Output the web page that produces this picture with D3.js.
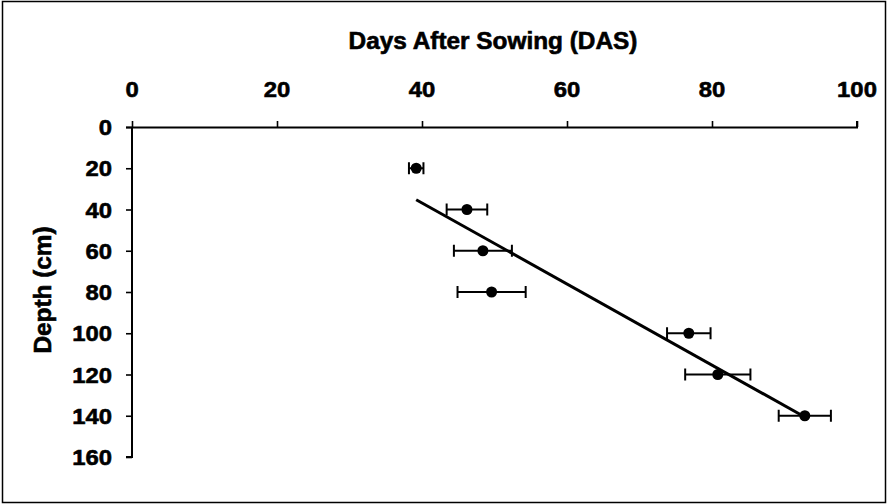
<!DOCTYPE html>
<html>
<head>
<meta charset="utf-8">
<script src="https://cdn.jsdelivr.net/npm/d3@7/dist/d3.min.js"></script>
<style>
  html, body { margin: 0; padding: 0; background: #fff; }
  svg { display: block; }
  text { font-family: "Liberation Sans", Arial, sans-serif; font-weight: bold; fill: #000;
         stroke: #000; stroke-width: 0.6px; }
</style>
</head>
<body>
<svg id="chart" width="890" height="504"></svg>
<script>
// Rooting depth observations: depth (cm) reached at a given days-after-sowing
const depths = [20, 40, 60, 80, 100, 120, 140];
const dasMean = [39.2, 46.2, 48.4, 49.6, 76.8, 80.8, 92.8];
const dasErr = [1.0, 2.8, 4.0, 4.7, 3.0, 4.5, 3.6];
const xTicks = [0, 20, 40, 60, 80, 100];
const yTicks = [0, 20, 40, 60, 80, 100, 120, 140, 160];

const svg = d3.select("#chart");
const W = 890, H = 504;
const margin = { left: 132, right: 33, top: 127, bottom: 47 };

const x = d3.scaleLinear().domain([0, 100]).range([margin.left, W - margin.right]);
const y = d3.scaleLinear().domain([0, 160]).range([margin.top, H - margin.bottom]);

// Outer frame
svg.append("rect")
  .attr("x", 2.5).attr("y", 1.5).attr("width", 883).attr("height", 501)
  .attr("fill", "none").attr("stroke", "#000").attr("stroke-width", 1.5);

const stretch = 1.06;
// Text with a slight widening along its own direction
function label(g, tx, ty, str, size, anchor, rot) {
  return g.append("text")
    .attr("transform", `translate(${tx},${ty}) rotate(${rot || 0}) scale(${stretch},1)`)
    .attr("text-anchor", anchor)
    .style("font-size", size + "px")
    .text(str);
}

// Top x axis
const xAxis = svg.append("g")
  .attr("transform", `translate(0,${y(0)})`)
  .call(d3.axisTop(x).tickValues(xTicks).tickSize(6).tickFormat(""));
// Left y axis
const yAxis = svg.append("g")
  .attr("transform", `translate(${x(0)},0)`)
  .call(d3.axisLeft(y).tickValues(yTicks).tickSize(6).tickFormat(""));
[xAxis, yAxis].forEach(a => {
  a.select(".domain").attr("stroke-width", 2).attr("stroke", "#000");
  a.selectAll(".tick line").attr("stroke-width", 1.6).attr("stroke", "#000");
});
xAxis.select(".domain").attr("d", `M${x(0) - 6},0.5H${x(100)}V-6`);
yAxis.select(".domain").attr("d", `M0,${y(0)}V${y(160)}H-6`);

// Tick labels
xTicks.forEach(t => label(svg, x(t), 97, String(t), 22.5, "middle"));
yTicks.forEach(t => label(svg, 112, y(t) + 8, String(t), 22.5, "end"));

// Axis titles
label(svg, 493, 49, "Days After Sowing (DAS)", 23, "middle");
label(svg, 51, 290, "Depth (cm)", 23, "middle", -90);

// Linear trendline (depth on DAS)
const n = dasMean.length;
const mx = d3.mean(dasMean), my = d3.mean(depths);
let sxy = 0, sxx = 0;
for (let i = 0; i < n; i++) {
  sxy += (dasMean[i] - mx) * (depths[i] - my);
  sxx += (dasMean[i] - mx) ** 2;
}
const slope = sxy / sxx, intercept = my - slope * mx;
const x0 = d3.min(dasMean), x1 = d3.max(dasMean);
svg.append("line")
  .attr("x1", x(x0)).attr("y1", y(intercept + slope * x0))
  .attr("x2", x(x1)).attr("y2", y(intercept + slope * x1))
  .attr("stroke", "#000").attr("stroke-width", 3);

// Error bars and markers
const pts = depths.map((d, i) => ({ depth: d, das: dasMean[i], err: dasErr[i] }));
const eb = svg.append("g").attr("stroke", "#000").attr("stroke-width", 2);
pts.forEach(p => {
  const cy = y(p.depth);
  eb.append("line").attr("x1", x(p.das - p.err)).attr("x2", x(p.das + p.err))
    .attr("y1", cy).attr("y2", cy);
  [p.das - p.err, p.das + p.err].forEach(v => {
    eb.append("line").attr("x1", x(v)).attr("x2", x(v))
      .attr("y1", cy - 6).attr("y2", cy + 6);
  });
});
svg.append("g").selectAll("circle").data(pts).join("circle")
  .attr("cx", d => x(d.das)).attr("cy", d => y(d.depth))
  .attr("r", 5.5).attr("fill", "#000");
</script>
</body>
</html>
